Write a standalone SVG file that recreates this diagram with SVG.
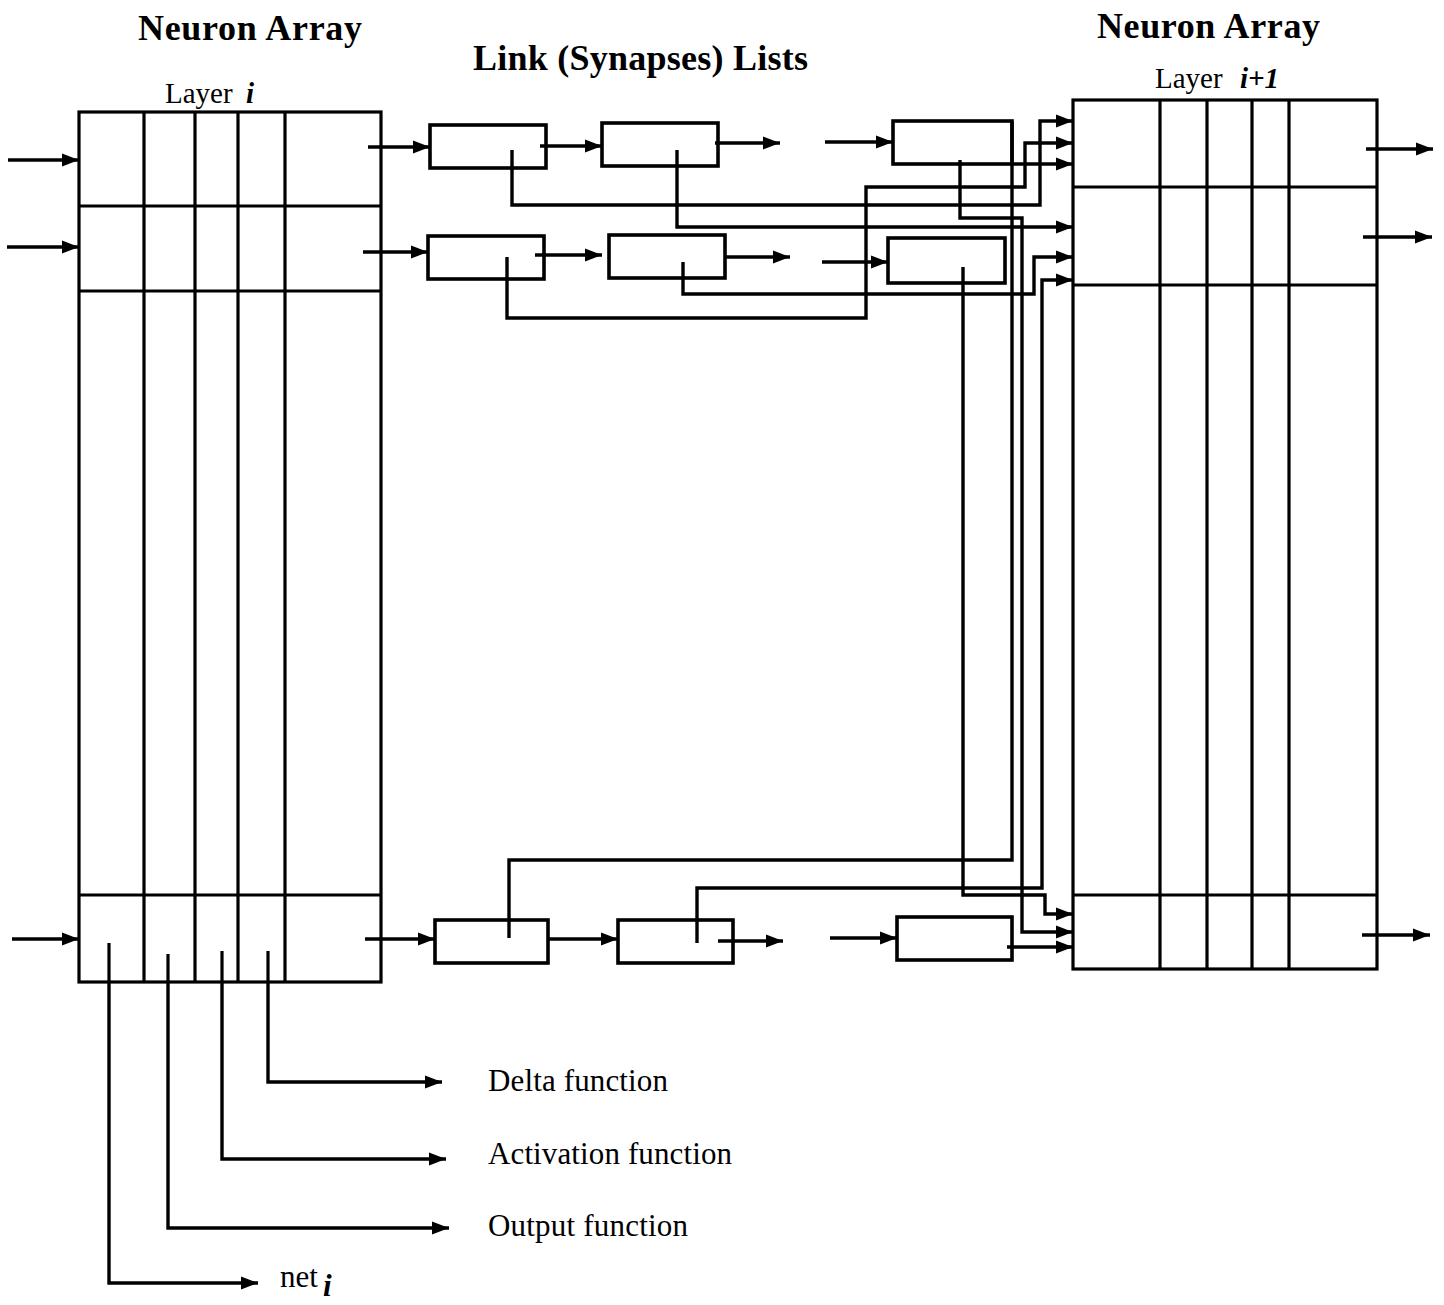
<svg xmlns="http://www.w3.org/2000/svg" width="1444" height="1305" viewBox="0 0 1444 1305">
<defs>
<marker id="ah" markerUnits="userSpaceOnUse" markerWidth="18" markerHeight="14" refX="17" refY="7" orient="auto"><path d="M0,0.5 L17,7 L0,13.5 z" fill="#000"/></marker>
<style>
.s{fill:none;stroke:#000;stroke-width:3.4}
.b{fill:#fff;stroke:#000;stroke-width:3.6}
.c{fill:none;stroke:#000;stroke-width:3.4;marker-end:url(#ah)}
.w{fill:none;stroke:#000;stroke-width:3.2}
.t{font-family:"Liberation Serif","Times New Roman",serif;fill:#000}
.h{font-size:36px;font-weight:bold}
.l{font-size:29px}
.f{font-size:31px}
.bi{font-weight:bold;font-style:italic}
</style>
</defs>
<rect width="1444" height="1305" fill="#fff"/>

<g id="titles">
<text class="t h" x="138" y="40" textLength="224">Neuron Array</text>
<text class="t h" x="473" y="70" textLength="335">Link (Synapses) Lists</text>
<text class="t h" x="1097" y="38" textLength="223">Neuron Array</text>
<text class="t l" x="165" y="103">Layer <tspan class="bi" dx="6">i</tspan></text>
<text class="t l" x="1155" y="88">Layer <tspan class="bi" dx="10">i+1</tspan></text>
</g>

<g id="layer-i">
<rect class="w" x="79" y="112" width="302" height="870"/>
<path class="w" d="M79,206H381M79,291H381M79,895H381M144,112V982M195,112V982M238,112V982M285,112V982"/>
<path class="w" d="M109,943V982M168,954V982M222,951V982M268,951V982"/>
</g>

<g id="layer-i1">
<rect class="w" x="1073" y="100" width="304" height="869"/>
<path class="w" d="M1073,187H1377M1073,285H1377M1073,895H1377M1160,100V969M1207,100V969M1252,100V969M1289,100V969"/>
</g>

<g id="link-r1-1"><rect class="b" x="430" y="125" width="116" height="43"/></g>
<g id="link-r1-2"><rect class="b" x="602" y="123" width="116" height="43"/></g>
<g id="link-r1-3"><rect class="b" x="893" y="121" width="119" height="43"/></g>
<g id="link-r2-1"><rect class="b" x="428" y="236" width="116" height="43"/></g>
<g id="link-r2-2"><rect class="b" x="609" y="235" width="116" height="43"/></g>
<g id="link-r2-3"><rect class="b" x="888" y="238" width="117" height="45"/></g>
<g id="link-rn-1"><rect class="b" x="435" y="920" width="113" height="43"/></g>
<g id="link-rn-2"><rect class="b" x="618" y="920" width="115" height="43"/></g>
<g id="link-rn-3"><rect class="b" x="897" y="917" width="115" height="43"/></g>

<g id="connectors">
<path class="c" d="M8,160H79"/>
<path class="c" d="M7,247H79"/>
<path class="c" d="M12,939H79"/>
<path class="c" d="M368,147H430"/>
<path class="c" d="M363,252H428"/>
<path class="c" d="M365,939H435"/>
<path class="c" d="M540,146H602"/>
<path class="c" d="M715,143H780"/>
<path class="c" d="M825,142H893"/>
<path class="c" d="M535,255H602"/>
<path class="c" d="M725,257H790"/>
<path class="c" d="M822,262H888"/>
<path class="c" d="M548,939H618"/>
<path class="c" d="M718,941H783"/>
<path class="c" d="M830,938H897"/>
<path class="c" d="M512,150V205H1040V121H1073"/>
<path class="c" d="M507,257V318H866V187H1025V143H1073"/>
<path class="c" d="M1012,164H1073"/>
<path class="c" d="M677,150V227H1073"/>
<path class="c" d="M683,262V294H1034V257H1073"/>
<path class="c" d="M697,943V888H1042V280H1073"/>
<path class="c" d="M960,160V218H1022V932H1073"/>
<path class="s" d="M1012,121V860H509V938"/>
<path class="c" d="M963,267V895H1045V914H1073"/>
<path class="c" d="M1007,947H1073"/>
<path class="c" d="M1366,149H1433"/>
<path class="c" d="M1363,237H1432"/>
<path class="c" d="M1362,935H1430"/>
<path class="c" d="M268,982V1082H442"/>
<path class="c" d="M222,982V1159H446"/>
<path class="c" d="M168,982V1228H449"/>
<path class="c" d="M109,982V1283H258"/>
</g>

<g id="labels">
<text class="t f" x="488" y="1091" textLength="180">Delta function</text>
<text class="t f" x="488" y="1164" textLength="244">Activation function</text>
<text class="t f" x="488" y="1236" textLength="200">Output function</text>
<text class="t f" x="280" y="1287">net<tspan class="bi" dx="5" dy="9">i</tspan></text>
</g>
</svg>
